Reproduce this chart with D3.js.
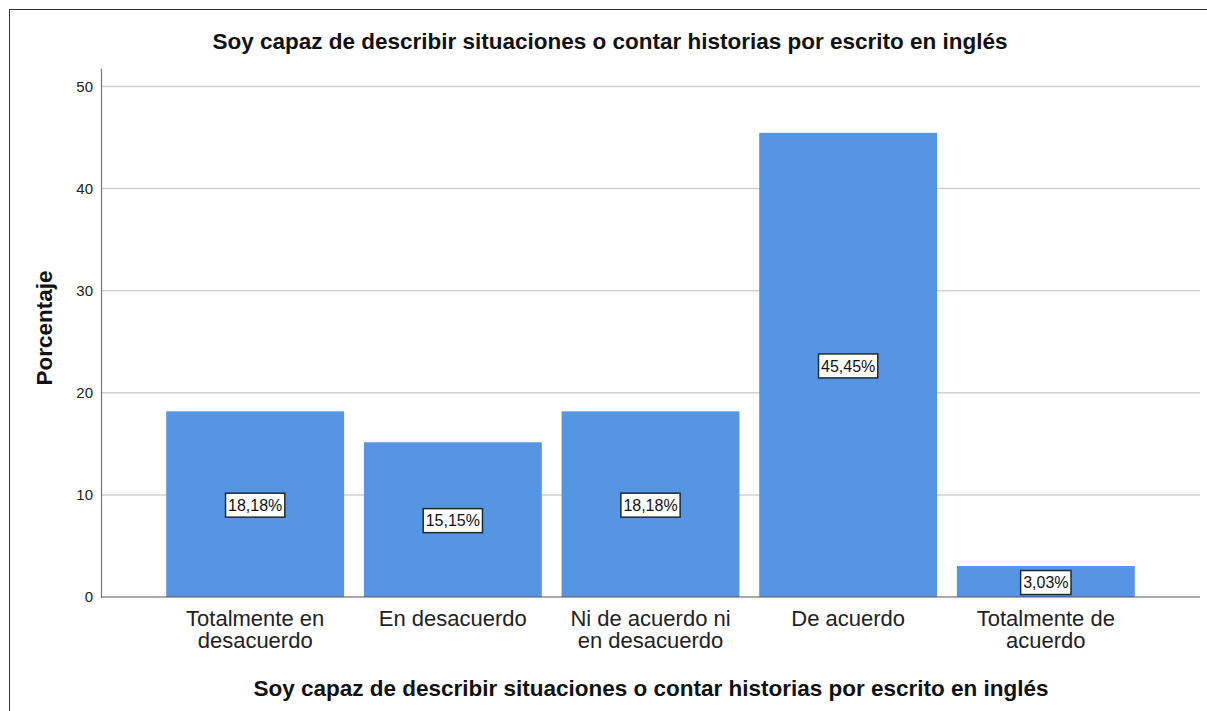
<!DOCTYPE html>
<html>
<head>
<meta charset="utf-8">
<script src="https://cdn.jsdelivr.net/npm/d3@7"></script>
<style>
  body { margin: 0; background: #fff; }
  text { font-family: "Liberation Sans", Arial, sans-serif; }
</style>
</head>
<body>
<div id="chart"></div>
<script>
var categories = [
  ['Totalmente en', 'desacuerdo'],
  ['En desacuerdo'],
  ['Ni de acuerdo ni', 'en desacuerdo'],
  ['De acuerdo'],
  ['Totalmente de', 'acuerdo']
];
var percentages = [18.18, 15.15, 18.18, 45.45, 3.03];
var valueLabels = ['18,18%', '15,15%', '18,18%', '45,45%', '3,03%'];
var yTicks = [0, 10, 20, 30, 40, 50];
var titleText = 'Soy capaz de describir situaciones o contar historias por escrito en inglés';

var width = 1207, height = 711;
var svg = d3.select('#chart').append('svg')
  .attr('width', width)
  .attr('height', height);

// outer frame (top and left edges visible)
svg.append('rect')
  .attr('x', 9.5).attr('y', 9.5)
  .attr('width', width + 10).attr('height', height + 10)
  .attr('fill', 'none')
  .attr('stroke', '#333')
  .attr('stroke-width', 1);

var plotLeft = 101, plotRight = 1200, plotTop = 68, plotBottom = 597;

var x = d3.scaleBand()
  .domain(d3.range(categories.length))
  .range([plotLeft, plotRight])
  .paddingInner(0.1)
  .paddingOuter(0.33);

var y = d3.scaleLinear()
  .domain([0, 51.8])
  .range([plotBottom, plotTop]);

// grid
svg.append('g').selectAll('line.grid').data(yTicks.filter(function(d) { return d > 0; }))
  .enter().append('line')
  .attr('class', 'grid')
  .attr('x1', plotLeft).attr('x2', plotRight)
  .attr('y1', function(d) { return y(d); })
  .attr('y2', function(d) { return y(d); })
  .attr('stroke', '#d0d0d0')
  .attr('stroke-width', 1.5);

// bars
svg.append('g').selectAll('rect.bar').data(percentages)
  .enter().append('rect')
  .attr('class', 'bar')
  .attr('x', function(d, i) { return x(i); })
  .attr('y', function(d) { return y(d); })
  .attr('width', x.bandwidth())
  .attr('height', function(d) { return plotBottom - y(d); })
  .attr('fill', '#5595e2');

// y axis
var yAxis = svg.append('g')
  .attr('transform', 'translate(' + plotLeft + ',0)')
  .call(d3.axisLeft(y).tickValues(yTicks).tickSize(0).tickPadding(8));
yAxis.select('.domain').attr('stroke', '#777').attr('stroke-width', 1.2);
yAxis.selectAll('text')
  .attr('font-size', 15)
  .attr('fill', '#222')
  .style('font-family', '"Liberation Sans", Arial, sans-serif');

// baseline
svg.append('line')
  .attr('x1', plotLeft).attr('x2', plotRight)
  .attr('y1', y(0)).attr('y2', y(0))
  .attr('stroke', '#555')
  .attr('stroke-width', 1.2);

// category labels, one text per line
categories.forEach(function(lines, i) {
  svg.append('g').selectAll('text').data(lines)
    .enter().append('text')
    .attr('class', 'cat')
    .attr('text-anchor', 'middle')
    .attr('font-size', 22)
    .attr('fill', '#222')
    .attr('x', x(i) + x.bandwidth() / 2)
    .attr('y', function(d, j) { return 626 + j * 22; })
    .text(function(d) { return d; });
});

// value labels
var lab = svg.append('g').selectAll('g.lab').data(percentages)
  .enter().append('g')
  .attr('class', 'lab')
  .attr('transform', function(d, i) {
    return 'translate(' + (x(i) + x.bandwidth() / 2) + ',' + ((y(d) + plotBottom) / 2 + 1) + ')';
  });
lab.append('text')
  .attr('text-anchor', 'middle')
  .attr('dy', '0.36em')
  .attr('font-size', 16)
  .attr('fill', '#111')
  .text(function(d, i) { return valueLabels[i]; });
lab.each(function() {
  var g = d3.select(this);
  var bb = g.select('text').node().getBBox();
  g.insert('rect', 'text')
    .attr('x', bb.x - 2.5).attr('y', -12)
    .attr('width', bb.width + 5).attr('height', 24)
    .attr('fill', '#fff')
    .attr('stroke', '#1e2a38')
    .attr('stroke-width', 1.5);
});

// titles
svg.append('text')
  .attr('x', 610).attr('y', 49)
  .attr('text-anchor', 'middle')
  .attr('font-size', 22.5)
  .attr('font-weight', 'bold')
  .attr('fill', '#111')
  .text(titleText);

svg.append('text')
  .attr('x', 651).attr('y', 696)
  .attr('text-anchor', 'middle')
  .attr('font-size', 22.5)
  .attr('font-weight', 'bold')
  .attr('fill', '#111')
  .text(titleText);

svg.append('text')
  .attr('transform', 'translate(52,328) rotate(-90)')
  .attr('text-anchor', 'middle')
  .attr('font-size', 22.5)
  .attr('font-weight', 'bold')
  .attr('fill', '#111')
  .text('Porcentaje');
</script>
</body>
</html>
